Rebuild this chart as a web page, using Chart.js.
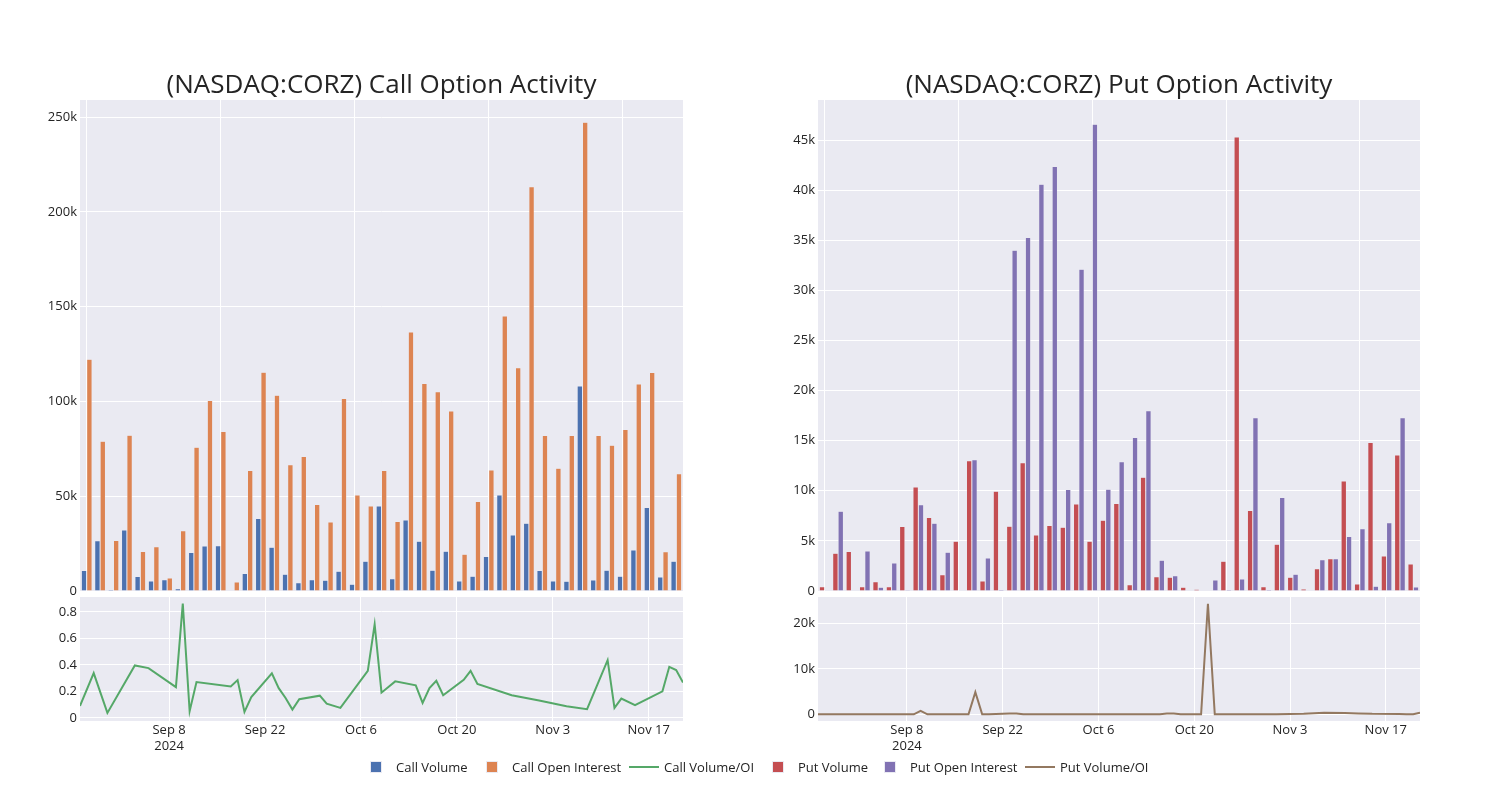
<!DOCTYPE html>
<html>
<head>
<meta charset="utf-8">
<script src="https://cdn.jsdelivr.net/npm/chart.js@4.4.1/dist/chart.umd.min.js"></script>
<style>
  html, body { margin: 0; padding: 0; background: #fff; }
  body { width: 1500px; height: 800px; position: relative; overflow: hidden; font-family: "Open Sans", sans-serif; }
  canvas { position: absolute; display: block; }
  .lg { position: absolute; top: 759px; height: 16px; font-size: 13px; color: rgb(36,36,36); white-space: nowrap; line-height: 16px; }
  .lg .sym { position: absolute; left: 0; top: 0; width: 40px; height: 16px; }
  .lg .sq { position: absolute; left: 14px; top: 2px; width: 12px; height: 12px; box-sizing: border-box; border: 0.5px solid rgb(234,234,242); }
  .lg .ln { position: absolute; left: 5px; top: 7px; width: 30px; height: 2px; }
  .lg .tx { position: absolute; left: 40px; top: 0; }
</style>
</head>
<body>
<canvas id="c1" width="690" height="560" style="left:0px;top:50px"></canvas>
<canvas id="c2" width="689" height="560" style="left:738px;top:50px"></canvas>
<canvas id="c3" width="690" height="170" style="left:0px;top:597px"></canvas>
<canvas id="c4" width="689" height="170" style="left:738px;top:597px"></canvas>
<div id="legend"></div>
<script>
// ---------------- data ----------------
const dates = ['2024-08-26','2024-08-28','2024-08-30','2024-09-03','2024-09-05','2024-09-09','2024-09-10','2024-09-11','2024-09-12','2024-09-17','2024-09-18','2024-09-19','2024-09-20','2024-09-23','2024-09-24','2024-09-25','2024-09-26','2024-09-27','2024-09-30','2024-10-01','2024-10-03','2024-10-07','2024-10-08','2024-10-09','2024-10-11','2024-10-14','2024-10-15','2024-10-16','2024-10-17','2024-10-18','2024-10-21','2024-10-22','2024-10-23','2024-10-28','2024-11-01','2024-11-05','2024-11-08','2024-11-11','2024-11-12','2024-11-13','2024-11-15','2024-11-19','2024-11-20','2024-11-21','2024-11-22'];

const callVolume = [10800,26500,700,32200,7600,5300,6000,1200,20300,23700,23900,200,9200,38200,23100,8800,4400,6000,5700,10400,3500,15700,44900,6500,37500,26300,11000,21000,5300,7800,18200,50700,29500,35700,10800,5300,5100,108100,5800,11000,7800,21600,44000,7400,15700];
const callOpenInterest = [122300,79000,26700,82200,20800,23300,6900,31800,75800,100500,84100,4800,63600,115400,103200,66600,71000,45600,36400,101600,50700,44900,63600,36600,136600,109500,105100,94900,19400,47200,63800,145100,117800,213300,82000,64800,82000,247200,82000,76900,85200,109200,115200,20700,61800];
const callVolOI = [0.09,0.337,0.037,0.395,0.375,0.232,0.862,0.05,0.27,0.237,0.285,0.045,0.157,0.335,0.224,0.15,0.062,0.14,0.167,0.107,0.075,0.355,0.705,0.19,0.275,0.245,0.112,0.225,0.28,0.17,0.287,0.355,0.255,0.17,0.13,0.087,0.065,0.435,0.075,0.145,0.095,0.2,0.385,0.36,0.267];

const putVolume = [430,3760,3930,430,930,430,6430,10390,7330,1630,4960,12990,1000,9960,6460,12790,5600,6530,6360,8690,4960,7060,8730,630,11360,1430,1370,370,170,70,2960,45300,8030,430,4660,1370,200,2230,3230,10990,700,14820,3500,13560,2700];
const putOpenInterest = [0,7960,0,4000,370,2800,10,8600,6760,3860,0,13090,3300,130,34000,35280,40600,42370,10130,32110,46570,10160,12890,15320,17990,3060,1530,0,70,1100,130,1200,17290,130,9330,1670,0,3130,3230,5430,6200,470,6800,17290,400];
const putVolOI = [0,0,0,0,0,0,780,0,0,0,4900,0,0,200,200,0,0,0,0,0,0,0,0,0,0,0,0,150,150,0,0,24400,0,0,0,100,350,300,250,200,100,50,0,0,350];

const callBarTicks = [0,50000,100000,150000,200000,250000];
const putBarTicks = [0,5000,10000,15000,20000,25000,30000,35000,40000,45000];
const callRatioTicks = [0,0.2,0.4,0.6,0.8];
const putRatioTicks = [0,10000,20000];
const dateTicks = ['2024-09-08','2024-09-22','2024-10-06','2024-10-20','2024-11-03','2024-11-17'];
const dateTickLabels = [['Sep 8','2024'],'Sep 22','Oct 6','Oct 20','Nov 3','Nov 17'];

const titles = ['(NASDAQ:CORZ) Call Option Activity','(NASDAQ:CORZ) Put Option Activity'];
const legendItems = [
  {label:'Call Volume', kind:'bar', color:'rgb(76,114,176)'},
  {label:'Call Open Interest', kind:'bar', color:'rgb(221,132,82)'},
  {label:'Call Volume/OI', kind:'line', color:'rgb(85,168,104)'},
  {label:'Put Volume', kind:'bar', color:'rgb(196,78,82)'},
  {label:'Put Open Interest', kind:'bar', color:'rgb(129,114,179)'},
  {label:'Put Volume/OI', kind:'line', color:'rgb(147,120,96)'}
];

// ---------------- styling ----------------
const FONT = '"Open Sans", sans-serif';
const TXT = 'rgb(36,36,36)';
const BG = 'rgb(234,234,242)';
Chart.defaults.font.family = FONT;
Chart.defaults.font.size = 13;
Chart.defaults.color = TXT;

const dayNum = s => Date.UTC(+s.slice(0,4), +s.slice(5,7)-1, +s.slice(8,10)) / 864e5;
const fmtK = v => (v === 0 ? '0' : (Math.abs(v) >= 1000 ? (v/1000) + 'k' : String(v)));

const bgPlugin = {
  id: 'plotBg',
  beforeDraw(chart) {
    const a = chart.chartArea, c = chart.ctx;
    c.save(); c.fillStyle = BG; c.fillRect(a.left, a.top, a.right - a.left, a.bottom - a.top); c.restore();
  }
};

function yScale(min, max, ticks) {
  return {
    type: 'linear', min, max,
    afterBuildTicks: s => { s.ticks = ticks.map(v => ({value: v})); },
    afterFit: s => { s.width = 80; s.paddingTop = 0; s.paddingBottom = 0; },
    grid: { color: '#ffffff', lineWidth: 1, drawTicks: false },
    border: { display: false },
    ticks: { padding: 3, color: TXT, font: {size: 13}, callback: v => fmtK(v) }
  };
}

function barChart(id, title, volLabel, oiLabel, vol, oi, c1, c2, ymax, ticks) {
  return new Chart(document.getElementById(id), {
    type: 'bar',
    data: {
      labels: dates,
      datasets: [
        {label: volLabel, data: vol, backgroundColor: c1, borderColor: BG, borderWidth: 0.5},
        {label: oiLabel, data: oi, backgroundColor: c2, borderColor: BG, borderWidth: 0.5}
      ]
    },
    options: {
      responsive: false, animation: false, events: [],
      layout: { padding: {left: 0, right: 7, top: 0, bottom: 19} },
      datasets: { bar: { categoryPercentage: 0.8, barPercentage: 1.0 } },
      plugins: {
        legend: {display: false}, tooltip: {enabled: false},
        title: { display: true, text: title, fullSize: false, color: TXT,
                 font: {family: FONT, size: 26, weight: 'normal', lineHeight: 1.0}, padding: {top: 23, bottom: 1} }
      },
      scales: {
        x: {
          type: 'category', offset: true,
          afterFit: s => { s.height = 0; s.paddingLeft = 0; s.paddingRight = 0; },
          grid: { offset: false, drawTicks: false, lineWidth: 1,
                  color: ctx => (ctx.index % 10 === 0 ? '#ffffff' : 'rgba(0,0,0,0)') },
          border: { display: false },
          ticks: { display: false, autoSkip: false }
        },
        y: yScale(0, ymax, ticks)
      }
    },
    plugins: [bgPlugin]
  });
}

function lineChart(id, label, vals, color, ymin, ymax, ticks) {
  return new Chart(document.getElementById(id), {
    type: 'line',
    data: {
      datasets: [{
        label, data: dates.map((d, i) => ({x: dayNum(d), y: vals[i]})),
        borderColor: color, backgroundColor: color, borderWidth: 2,
        pointRadius: 0, tension: 0, fill: false
      }]
    },
    options: {
      responsive: false, animation: false, events: [],
      layout: { padding: {left: 0, right: 7, top: 0, bottom: 0} },
      plugins: { legend: {display: false}, tooltip: {enabled: false}, title: {display: false} },
      scales: {
        x: {
          type: 'linear', min: dayNum(dates[0]), max: dayNum(dates[dates.length-1]),
          afterBuildTicks: s => { s.ticks = dateTicks.map(d => ({value: dayNum(d)})); },
          afterFit: s => { s.height = 46; s.paddingLeft = 0; s.paddingRight = 0; },
          grid: { color: '#ffffff', lineWidth: 1, drawTicks: false },
          border: { display: false },
          ticks: { padding: 1, autoSkip: false, maxRotation: 0, color: TXT,
                   font: {size: 13, lineHeight: 1.25},
                   callback: (v, i) => dateTickLabels[i] }
        },
        y: yScale(ymin, ymax, ticks)
      }
    },
    plugins: [bgPlugin]
  });
}

barChart('c1', titles[0], 'Call Volume', 'Call Open Interest', callVolume, callOpenInterest,
         'rgb(76,114,176)', 'rgb(221,132,82)', 259000, callBarTicks);
barChart('c2', titles[1], 'Put Volume', 'Put Open Interest', putVolume, putOpenInterest,
         'rgb(196,78,82)', 'rgb(129,114,179)', 49000, putBarTicks);
lineChart('c3', 'Call Volume/OI', callVolOI, 'rgb(85,168,104)', -0.024, 0.912, callRatioTicks);
lineChart('c4', 'Put Volume/OI', putVolOI, 'rgb(147,120,96)', -1480, 25880, putRatioTicks);

// ---------------- legend ----------------
const legendStarts = [356, 472, 624, 758, 870, 1020];
const lg = document.getElementById('legend');
legendItems.forEach((it, i) => {
  const d = document.createElement('div');
  d.className = 'lg';
  d.style.left = legendStarts[i] + 'px';
  const sym = document.createElement('div'); sym.className = 'sym';
  const mk = document.createElement('div');
  mk.className = it.kind === 'bar' ? 'sq' : 'ln';
  mk.style.background = it.color;
  sym.appendChild(mk);
  const tx = document.createElement('span'); tx.className = 'tx'; tx.textContent = it.label;
  d.appendChild(sym); d.appendChild(tx);
  lg.appendChild(d);
});
</script>
</body>
</html>
